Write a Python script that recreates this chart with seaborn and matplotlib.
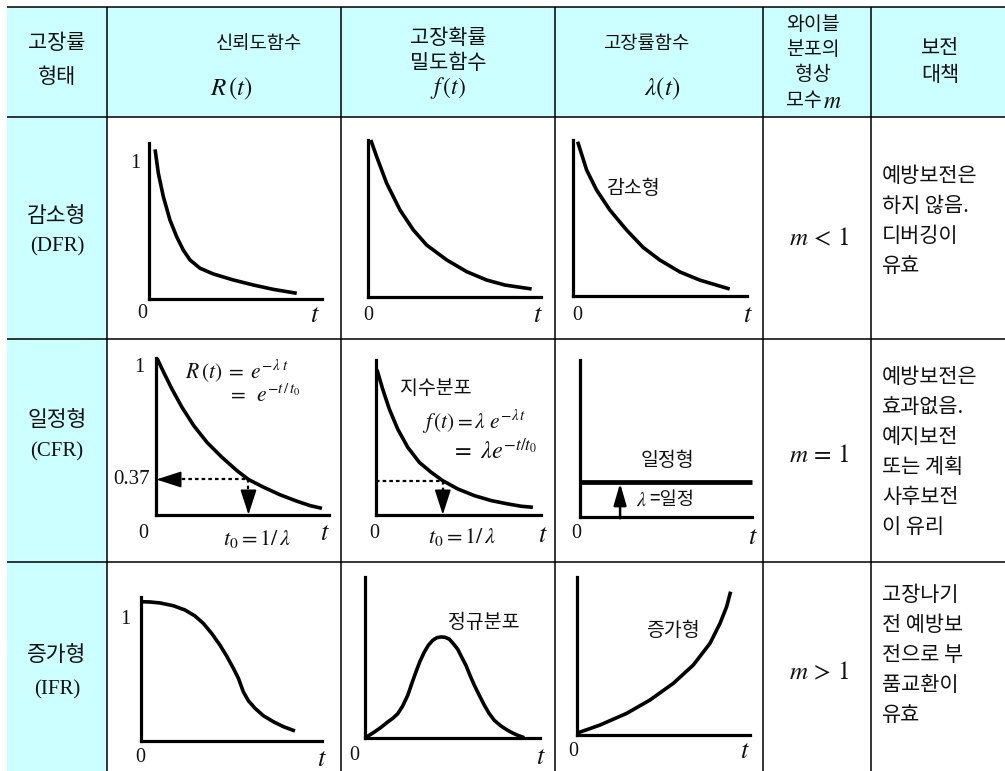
import matplotlib
matplotlib.use("Agg")
import matplotlib.pyplot as plt
from matplotlib.patches import Rectangle
import seaborn as sns

sns.set_theme(style="white")
plt.rcParams['font.family'] = ['Noto Sans CJK KR', 'DejaVu Sans']
plt.rcParams['mathtext.fontset'] = 'stix'

# ---------------- table text ----------------
header_col0 = ["고장률", "형태"]
header_R = ["신뢰도함수", r"$R\,(t)$"]
header_f = ["고장확률", "밀도함수", r"$f\,(t)$"]
header_h = ["고장률함수", r"$\lambda(t)$"]
header_m = ["와이블", "분포의", "형상"]
header_keep = ["보전", "대책"]
row_names = ["감소형", "일정형", "증가형"]
row_codes = ["(DFR)", "(CFR)", "(IFR)"]
weibull_m = [r"$m\,<\,1$", r"$m\,=\,1$", r"$m\,>\,1$"]
maintenance = [
    ["예방보전은", "하지 않음.", "디버깅이", "유효"],
    ["예방보전은", "효과없음.", "예지보전", "또는 계획", "사후보전", "이 유리"],
    ["고장나기", "전 예방보", "전으로 부", "품교환이", "유효"],
]

# ---------------- curve values ----------------
# decreasing failure rate (DFR)
dfr_R_t = [0.035, 0.054, 0.083, 0.121, 0.160, 0.198, 0.237, 0.295, 0.372, 0.487, 0.603, 0.718, 0.854]
dfr_R = [1.10, 0.924, 0.752, 0.581, 0.458, 0.360, 0.287, 0.226, 0.184, 0.140, 0.103, 0.071, 0.042]
dfr_f_t = [0.016, 0.050, 0.108, 0.185, 0.262, 0.339, 0.455, 0.571, 0.686, 0.792, 0.946]
dfr_f = [1.0, 0.894, 0.724, 0.554, 0.427, 0.331, 0.236, 0.161, 0.108, 0.076, 0.051]
dfr_h_t = [0.025, 0.077, 0.134, 0.211, 0.307, 0.403, 0.499, 0.614, 0.730, 0.826, 0.902]
dfr_h = [0.989, 0.807, 0.679, 0.550, 0.422, 0.310, 0.229, 0.153, 0.100, 0.068, 0.043]

# constant failure rate (CFR), time in units of t0 = 1/lambda
t0 = 1.0
r_t0 = 0.37
cfr_R_t = [0.008, 0.080, 0.170, 0.279, 0.406, 0.550, 0.713, 0.875, 1.0, 1.163, 1.345, 1.526, 1.670, 1.797]
cfr_R = [1.0, 0.927, 0.840, 0.745, 0.650, 0.563, 0.485, 0.416, 0.37, 0.330, 0.290, 0.257, 0.234, 0.220]
cfr_f_t = [0.015, 0.100, 0.199, 0.325, 0.475, 0.649, 0.825, 1.0, 1.225, 1.475, 1.726, 1.975, 2.174, 2.349]
cfr_f = [1.0, 0.890, 0.777, 0.663, 0.560, 0.474, 0.418, 0.37, 0.323, 0.285, 0.257, 0.238, 0.225, 0.219]
cfr_h_t = [0.0, 0.998]
cfr_h = [0.223, 0.223]

# increasing failure rate (IFR)
ifr_R_t = [0.004, 0.050, 0.105, 0.179, 0.244, 0.299, 0.345, 0.391, 0.437, 0.474, 0.511, 0.539,
           0.566, 0.594, 0.631, 0.677, 0.732, 0.788, 0.852]
ifr_R = [1.0, 0.998, 0.991, 0.971, 0.940, 0.897, 0.844, 0.772, 0.688, 0.609, 0.521, 0.449,
         0.353, 0.288, 0.233, 0.180, 0.137, 0.101, 0.070]
ifr_f_t = [0, 0.027, 0.053, 0.091, 0.130, 0.158, 0.187, 0.215, 0.244, 0.267, 0.291, 0.314,
           0.339, 0.362, 0.387, 0.410, 0.434, 0.457, 0.482, 0.505, 0.530, 0.552, 0.577, 0.600,
           0.625, 0.653, 0.682, 0.710, 0.739, 0.777, 0.815, 0.844, 0.872, 0.910]
ifr_f = [0, 0.017, 0.035, 0.064, 0.098, 0.120, 0.149, 0.197, 0.263, 0.336, 0.409, 0.475,
         0.533, 0.575, 0.606, 0.622, 0.627, 0.625, 0.613, 0.585, 0.550, 0.502, 0.450, 0.388,
         0.326, 0.264, 0.202, 0.150, 0.108, 0.073, 0.046, 0.029, 0.015, 0.0]
ifr_h_t = [0, 0.134, 0.288, 0.423, 0.558, 0.673, 0.769, 0.827, 0.865, 0.888]
ifr_h = [0.011, 0.063, 0.137, 0.222, 0.328, 0.444, 0.581, 0.708, 0.813, 0.909]

# ---------------- layout ----------------
W, H = 1005, 771
CYAN = "#CCFFFF"
col_edges = [7, 107, 341, 555, 763, 871, 1005]
row_edges = [7, 117, 339, 562, 771]
KR = ['Noto Sans CJK KR', 'DejaVu Sans']
SERIF = ['Liberation Serif', 'DejaVu Serif']

fig = plt.figure(figsize=(W / 100, H / 100), dpi=100)
fig.patch.set_facecolor("white")
tab = fig.add_axes([0, 0, 1, 1])
tab.set_xlim(0, W)
tab.set_ylim(H, 0)
tab.axis("off")

# shaded header row and first column
tab.add_patch(Rectangle((col_edges[0], row_edges[0]), W - col_edges[0], row_edges[1] - row_edges[0],
                        facecolor=CYAN, edgecolor="none", zorder=0))
tab.add_patch(Rectangle((col_edges[0], row_edges[1]), col_edges[1] - col_edges[0], H - row_edges[1],
                        facecolor=CYAN, edgecolor="none", zorder=0))
for y in row_edges[:-1]:
    tab.plot([col_edges[0], W], [y, y], color="black", lw=1.1, solid_capstyle="butt")
for x in col_edges[1:-1]:
    tab.plot([x, x], [row_edges[0], H], color="black", lw=1.1, solid_capstyle="butt")


def txt(x, y, s, size=15, family=KR, ha="center", va="center", **kw):
    tab.text(x, y, s, fontsize=size, family=family, ha=ha, va=va, color="#111111", **kw)


# header
txt(57, 43, header_col0[0], 15)
txt(57, 77, header_col0[1], 15)
txt(259, 44, header_R[0], 13.5)
txt(232, 89, header_R[1], 18)
txt(448, 38, header_f[0], 15)
txt(448, 63, header_f[1], 15)
txt(448, 88, header_f[2], 17)
txt(646, 44, header_h[0], 13.5)
txt(662, 89, header_h[1], 18)
for i, s in enumerate(header_m):
    txt(813, 25 + 24.5 * i, s, 14)
txt(804, 100, "모수", 14)
txt(832, 101, r"$m$", 17)
txt(940, 48, header_keep[0], 15)
txt(940, 75, header_keep[1], 15)

# row labels, shape parameter and maintenance advice
row_mid = [(216, 247), (420, 452), (655, 690)]
m_y = [238, 455, 672]
keep_y = [176, 377, 595]
for i in range(3):
    txt(57, row_mid[i][0], row_names[i], 15.5)
    txt(57, row_mid[i][1], row_codes[i], 15, family=SERIF)
    txt(819, m_y[i], weibull_m[i], 18)
    for k, line in enumerate(maintenance[i]):
        txt(882, keep_y[i] + 30 * k, line, 15, ha="left")


# ---------------- small function plots ----------------
def panel(x0, y0, x1, ytop, xlim, ylim):
    ax = fig.add_axes([x0 / W, (H - y0) / H, (x1 - x0) / W, (y0 - ytop) / H])
    ax.set_xlim(*xlim)
    ax.set_ylim(*ylim)
    ax.patch.set_alpha(0)
    for side in ["top", "right"]:
        ax.spines[side].set_visible(False)
    for side in ["left", "bottom"]:
        ax.spines[side].set_visible(True)
        ax.spines[side].set_color("black")
        ax.spines[side].set_linewidth(2.3)
        ax.spines[side].set_capstyle("projecting")
    ax.set_xticks([])
    ax.set_yticks([])
    ax.set_xlabel("")
    ax.set_ylabel("")
    return ax


def curve(ax, t, v, lw=2.6):
    sns.lineplot(x=t, y=v, ax=ax, color="black", lw=lw, estimator=None, sort=False,
                 solid_joinstyle="round", solid_capstyle="butt", clip_on=False)
    ax.set_xlabel("")
    ax.set_ylabel("")


def zero_t(x0, y0, xt, yt):
    txt(x0, y0, "0", 14.5, family=SERIF)
    txt(xt, yt, r"$t$", 19)


# row 1: DFR
ax = panel(149, 299, 322, 143, (0, 1), (0, 1.147))
curve(ax, dfr_R_t, dfr_R)
txt(135, 163, "1", 14.5, family=SERIF)
zero_t(142, 314, 315, 314)

ax = panel(368, 297, 541, 140, (0, 1), (0, 1))
curve(ax, dfr_f_t, dfr_f)
zero_t(368, 316, 538, 314)

ax = panel(573.3, 295.7, 746.7, 140, (0, 1), (0, 1))
curve(ax, dfr_h_t, dfr_h)
txt(633, 188, "감소형", 14)
zero_t(577, 316, 748, 314)

# row 2: CFR
dot = dict(color="black", lw=1.6, linestyle=(0, (1.6, 1.4)), clip_on=False)
head = dict(arrowstyle="-|>,head_length=1.3,head_width=0.42", color="black", lw=1.2,
            shrinkA=0, shrinkB=0)

ax = panel(156.3, 514.7, 328.7, 358.3, (0, 1.87), (0.187, 1.0))
curve(ax, cfr_R_t, cfr_R)
ax.plot([0.2, t0], [r_t0, r_t0], **dot)
ax.plot([t0, t0], [r_t0, 0.27], **dot)
ax.annotate("", xy=(0, r_t0), xytext=(0.2, r_t0), arrowprops=head, annotation_clip=False)
ax.annotate("", xy=(t0, 0.187), xytext=(t0, 0.285), arrowprops=head, annotation_clip=False)
ax.text(-0.035, r_t0, f"{r_t0:.2f}", transform=ax.get_yaxis_transform(), ha="right",
        va="center", fontsize=15, family=SERIF, color="#111111")
txt(139, 368, "1", 14.5, family=SERIF)
txt(185, 371, r"$R\,(t)\;=\;e^{-\lambda\ t}$", 15.5, ha="left")
txt(227, 396, r"$=\;\;e^{-t\,/\,t_0}$", 15.5, ha="left")
txt(257, 538, r"$t_0=1/\,\lambda$", 16)
zero_t(143, 533, 325, 533)

ax = panel(376, 514.7, 541, 359.7, (0, 2.47), (0.177, 1.057))
curve(ax, cfr_f_t, cfr_f)
ax.plot([0, t0], [cfr_f[7], cfr_f[7]], **dot)
ax.plot([t0, t0], [cfr_f[7], 0.26], **dot)
ax.annotate("", xy=(t0, 0.177), xytext=(t0, 0.285), arrowprops=head, annotation_clip=False)
txt(436, 389, "지수분포", 14)
txt(422, 422, r"$f\,(t) = \lambda\ e^{-\lambda\, t}$", 15.5, ha="left")
txt(451, 452, r"$=\ \lambda e^{-t/t_0}$", 17.5, ha="left")
txt(462, 537, r"$t_0=1/\,\lambda$", 16)
zero_t(374, 533, 543, 535)

ax = panel(580, 516.7, 752, 360, (0, 1), (0, 1))
curve(ax, cfr_h_t, cfr_h, lw=3.4)
ax.annotate("", xy=(0.233, cfr_h[0] - 0.01), xytext=(0.233, -0.01),
            arrowprops=dict(arrowstyle="-|>,head_length=1.1,head_width=0.32", color="black",
                            lw=1.8, shrinkA=0, shrinkB=0), annotation_clip=False)
txt(667, 461, "일정형", 14)
txt(636, 500, r"$\lambda$", 14.5, ha="left")
txt(649, 500, "=일정", 13.5, ha="left")
zero_t(576, 533, 753, 537)

# row 3: IFR
ax = panel(141, 740.7, 321.7, 596.7, (0, 1), (0, 1.036))
curve(ax, ifr_R_t, ifr_R)
txt(125, 620, "1", 14.5, family=SERIF)
zero_t(140, 758, 322, 758)

ax = panel(365, 737.7, 540, 577, (0, 1), (0, 1))
curve(ax, ifr_f_t, ifr_f)
txt(484, 622, "정규분포", 14)
zero_t(354, 755, 541, 757)

ax = panel(576.7, 735, 750, 577.3, (0, 1), (0, 1))
curve(ax, ifr_h_t, ifr_h)
txt(673, 630, "증가형", 14)
zero_t(573, 752, 745, 750)

fig.savefig("out.png", dpi=100)
